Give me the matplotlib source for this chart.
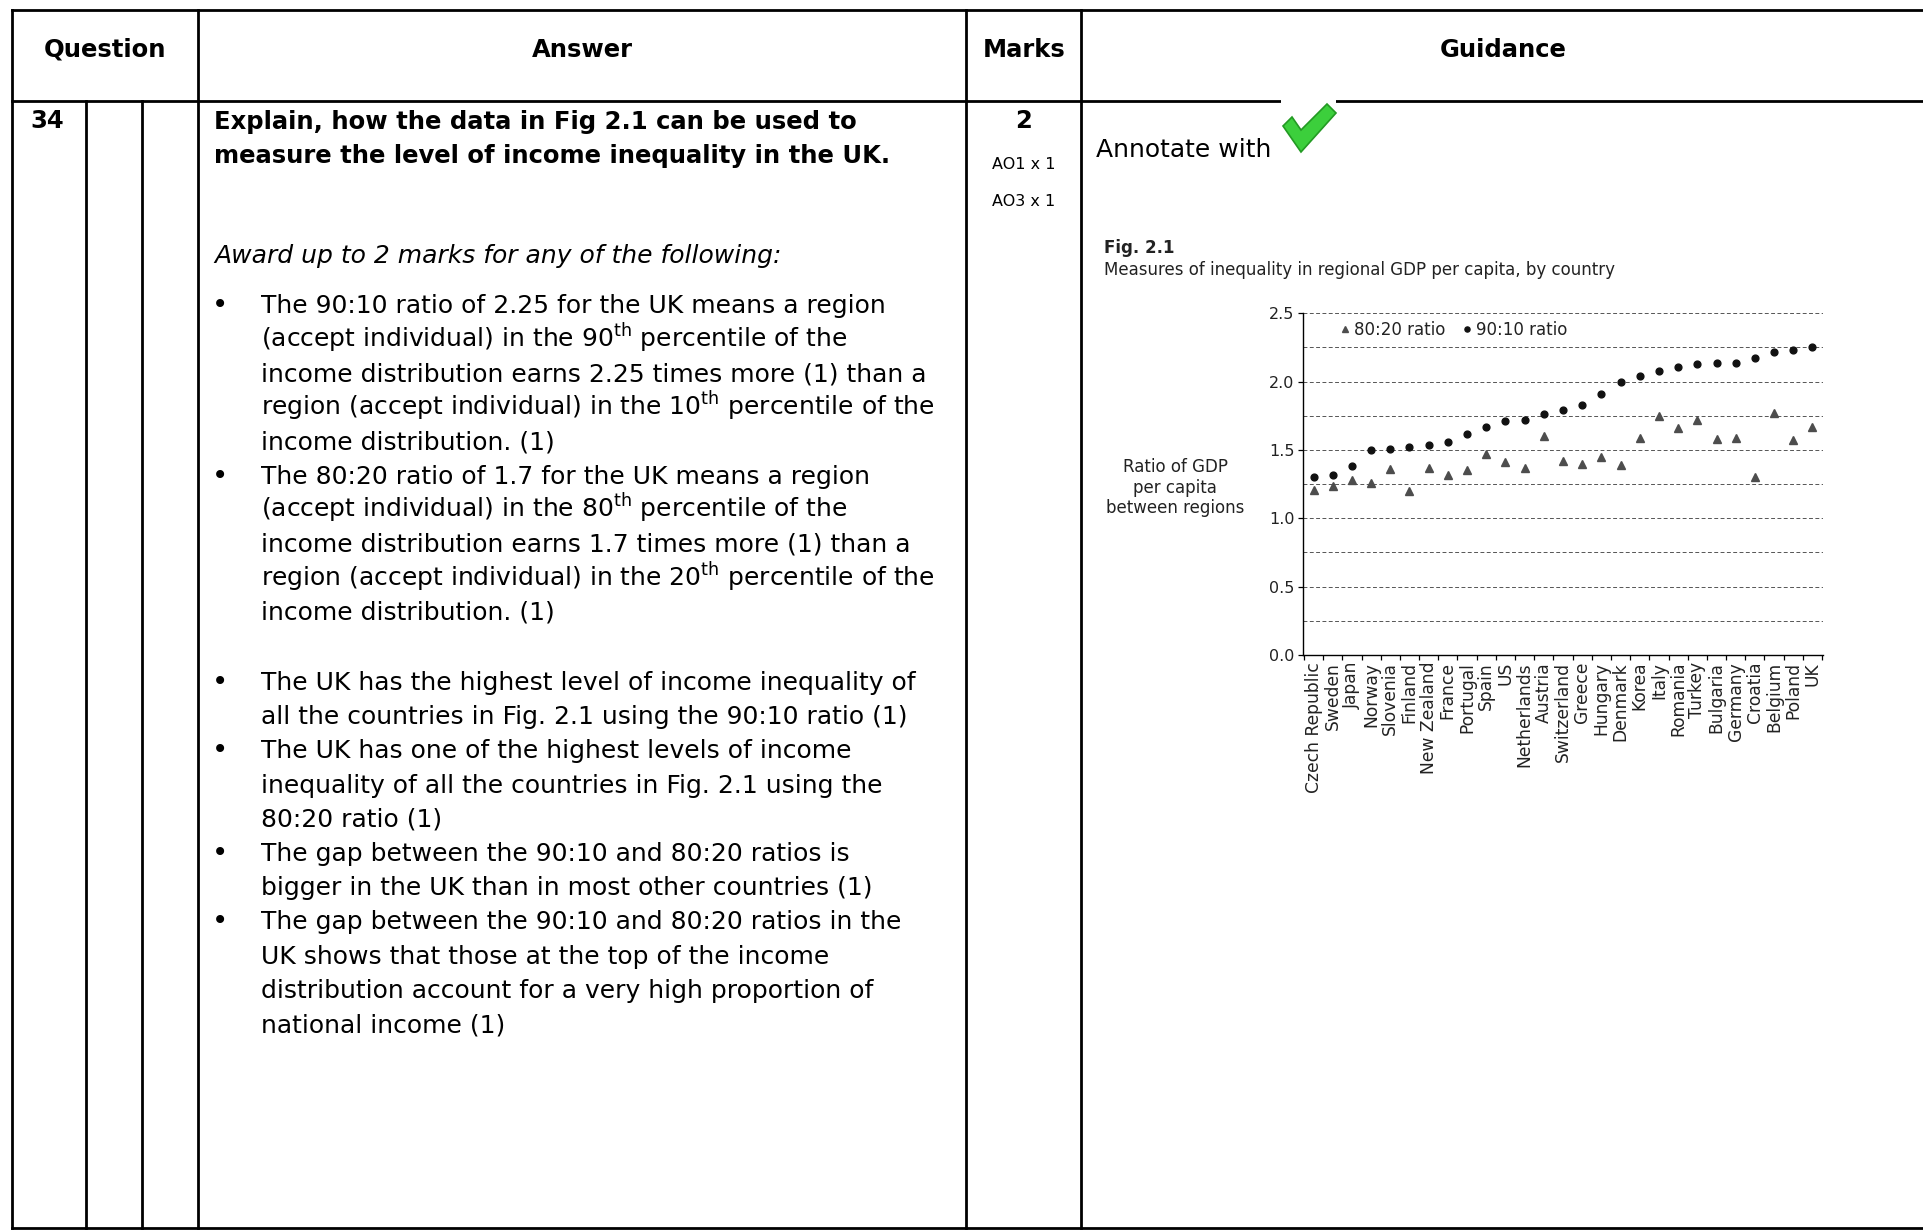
import matplotlib.pyplot as plt
from matplotlib.patches import Polygon, Rectangle
import numpy as np

# data
countries = ["Czech Republic", "Sweden", "Japan", "Norway", "Slovenia", "Finland",
             "New Zealand", "France", "Portugal", "Spain", "US", "Netherlands",
             "Austria", "Switzerland", "Greece", "Hungary", "Denmark", "Korea",
             "Italy", "Romania", "Turkey", "Bulgaria", "Germany", "Croatia",
             "Belgium", "Poland", "UK"]
ratio_90_10 = [1.30, 1.32, 1.38, 1.50, 1.51, 1.52, 1.54, 1.56, 1.62, 1.67, 1.71, 1.72,
               1.76, 1.79, 1.83, 1.91, 2.00, 2.04, 2.08, 2.11, 2.13, 2.14, 2.14, 2.17,
               2.22, 2.23, 2.25]
ratio_80_20 = [1.21, 1.24, 1.28, 1.26, 1.36, 1.20, 1.37, 1.32, 1.35, 1.47, 1.41, 1.37,
               1.60, 1.42, 1.40, 1.45, 1.39, 1.59, 1.75, 1.66, 1.72, 1.58, 1.59, 1.30,
               1.77, 1.57, 1.67]
y_ticks = [0.0, 0.5, 1.0, 1.5, 2.0, 2.5]
grid_levels = [0.25, 0.5, 0.75, 1.0, 1.25, 1.5, 1.75, 2.0, 2.25, 2.5]

headers = ["Question", "Answer", "Marks", "Guidance"]
question = ["Explain, how the data in Fig 2.1 can be used to",
            "measure the level of income inequality in the UK."]
award = "Award up to 2 marks for any of the following:"
bullets_a = [
    ["The 90:10 ratio of 2.25 for the UK means a region",
     r"(accept individual) in the 90$^{\mathrm{th}}$ percentile of the",
     "income distribution earns 2.25 times more (1) than a",
     r"region (accept individual) in the 10$^{\mathrm{th}}$ percentile of the",
     "income distribution. (1)"],
    ["The 80:20 ratio of 1.7 for the UK means a region",
     r"(accept individual) in the 80$^{\mathrm{th}}$ percentile of the",
     "income distribution earns 1.7 times more (1) than a",
     r"region (accept individual) in the 20$^{\mathrm{th}}$ percentile of the",
     "income distribution. (1)"],
]
bullets_b = [
    ["The UK has the highest level of income inequality of",
     "all the countries in Fig. 2.1 using the 90:10 ratio (1)"],
    ["The UK has one of the highest levels of income",
     "inequality of all the countries in Fig. 2.1 using the",
     "80:20 ratio (1)"],
    ["The gap between the 90:10 and 80:20 ratios is",
     "bigger in the UK than in most other countries (1)"],
    ["The gap between the 90:10 and 80:20 ratios in the",
     "UK shows that those at the top of the income",
     "distribution account for a very high proportion of",
     "national income (1)"],
]

W, H = 1924, 1232
fig = plt.figure(figsize=(W / 100, H / 100), dpi=100)

# page layer in pixel coordinates
page = fig.add_axes([0, 0, 1, 1])
page.set_xlim(0, W)
page.set_ylim(H, 0)
page.axis("off")

lw = 2.0
top, head, bottom = 9.5, 100.5, 1228
for y in (top, head, bottom):
    page.plot([12.5, W], [y, y], color="black", lw=lw, solid_capstyle="projecting")
for x in (12.5, 198, 966.5, 1081):
    page.plot([x, x], [top, bottom], color="black", lw=lw, solid_capstyle="projecting")
for x in (86, 142):
    page.plot([x, x], [head, bottom], color="black", lw=lw, solid_capstyle="projecting")

for txt, cx in zip(headers, [105, 582, 1024, 1503]):
    page.text(cx, 57, txt, ha="center", va="baseline", fontsize=17.5, fontweight="bold")

page.text(30, 128, "34", ha="left", va="baseline", fontsize=17.5, fontweight="bold")
for i, line in enumerate(question):
    page.text(214, 129 + 34 * i, line, ha="left", va="baseline", fontsize=17.5,
              fontweight="bold")
page.text(214, 263, award, ha="left", va="baseline", fontsize=18, fontstyle="italic")

def draw_bullets(groups, y0, step):
    y = y0
    for lines in groups:
        page.text(220, y, "\u2022", ha="center", va="baseline", fontsize=20)
        for line in lines:
            page.text(261, y, line, ha="left", va="baseline", fontsize=18)
            y += step

draw_bullets(bullets_a, 313, 34.1)
draw_bullets(bullets_b, 690, 34.2)

# marks column
page.text(1024, 128, "2", ha="center", va="baseline", fontsize=17.5, fontweight="bold")
page.text(1024, 169, "AO1 x 1", ha="center", va="baseline", fontsize=11.5)
page.text(1024, 206, "AO3 x 1", ha="center", va="baseline", fontsize=11.5)

# guidance column
page.text(1096, 157, "Annotate with", ha="left", va="baseline", fontsize=18)
page.add_patch(Rectangle((1281, 97), 55, 8, facecolor="white", edgecolor="none", zorder=3))
tick = [(1283, 126), (1292, 117), (1301, 130), (1327, 104), (1336, 113), (1301, 152)]
page.add_patch(Polygon(tick, closed=True, facecolor="#3ccf3c", edgecolor="#239a23",
                       lw=1.2, zorder=4))

page.text(1104, 253, "Fig. 2.1", ha="left", va="baseline", fontsize=12,
          fontweight="bold", color="#222222")
page.text(1104, 275, "Measures of inequality in regional GDP per capita, by country",
          ha="left", va="baseline", fontsize=12, color="#222222")

# the chart
ax = fig.add_axes([1303 / W, 1 - 655 / H, 520 / W, (655 - 313.3) / H])
ax.set_facecolor("none")
x = np.arange(len(countries))
for lvl in grid_levels:
    ax.axhline(lvl, color="#555555", lw=0.7, linestyle=(0, (4, 2.5)), zorder=1)
ax.plot(x, ratio_80_20, linestyle="none", marker="^", ms=5.3, color="#4d4d4d",
        label="80:20 ratio", zorder=3)
ax.plot(x, ratio_90_10, linestyle="none", marker="o", ms=4.9, color="#111111",
        label="90:10 ratio", zorder=4)

ax.set_xlim(-0.55, len(countries) - 0.45)
ax.set_ylim(0, 2.5)
ax.set_yticks(y_ticks)
ax.set_yticklabels([f"{v:.1f}" for v in y_ticks], fontsize=11.5, color="#222222")
ax.set_xticks(x)
ax.set_xticklabels(countries, rotation=90, fontsize=12.3, color="#222222")
ax.set_xticks(np.arange(-0.5, len(countries)), minor=True)
ax.tick_params(axis="x", which="major", length=0, pad=5)
ax.tick_params(axis="x", which="minor", length=3.6, width=0.9, direction="out")
ax.tick_params(axis="y", length=3.6, width=0.9, pad=2.5, direction="out")
for side in ("top", "right"):
    ax.spines[side].set_visible(False)
for side in ("left", "bottom"):
    ax.spines[side].set_linewidth(1.0)

ax.set_ylabel("Ratio of GDP\nper capita\nbetween regions", rotation=0, fontsize=12,
              ha="center", va="center", linespacing=1.15, color="#222222")
ax.yaxis.set_label_coords(-0.246, 0.49)

leg = ax.legend(loc="center left", bbox_to_anchor=(0.071, 0.951), ncol=2,
                frameon=False, fontsize=12, handlelength=0.6, handletextpad=0.25,
                columnspacing=1.0, borderpad=0, borderaxespad=0, markerscale=0.75)
for t in leg.get_texts():
    t.set_color("#222222")

fig.savefig("out.png", dpi=100, facecolor="white")
